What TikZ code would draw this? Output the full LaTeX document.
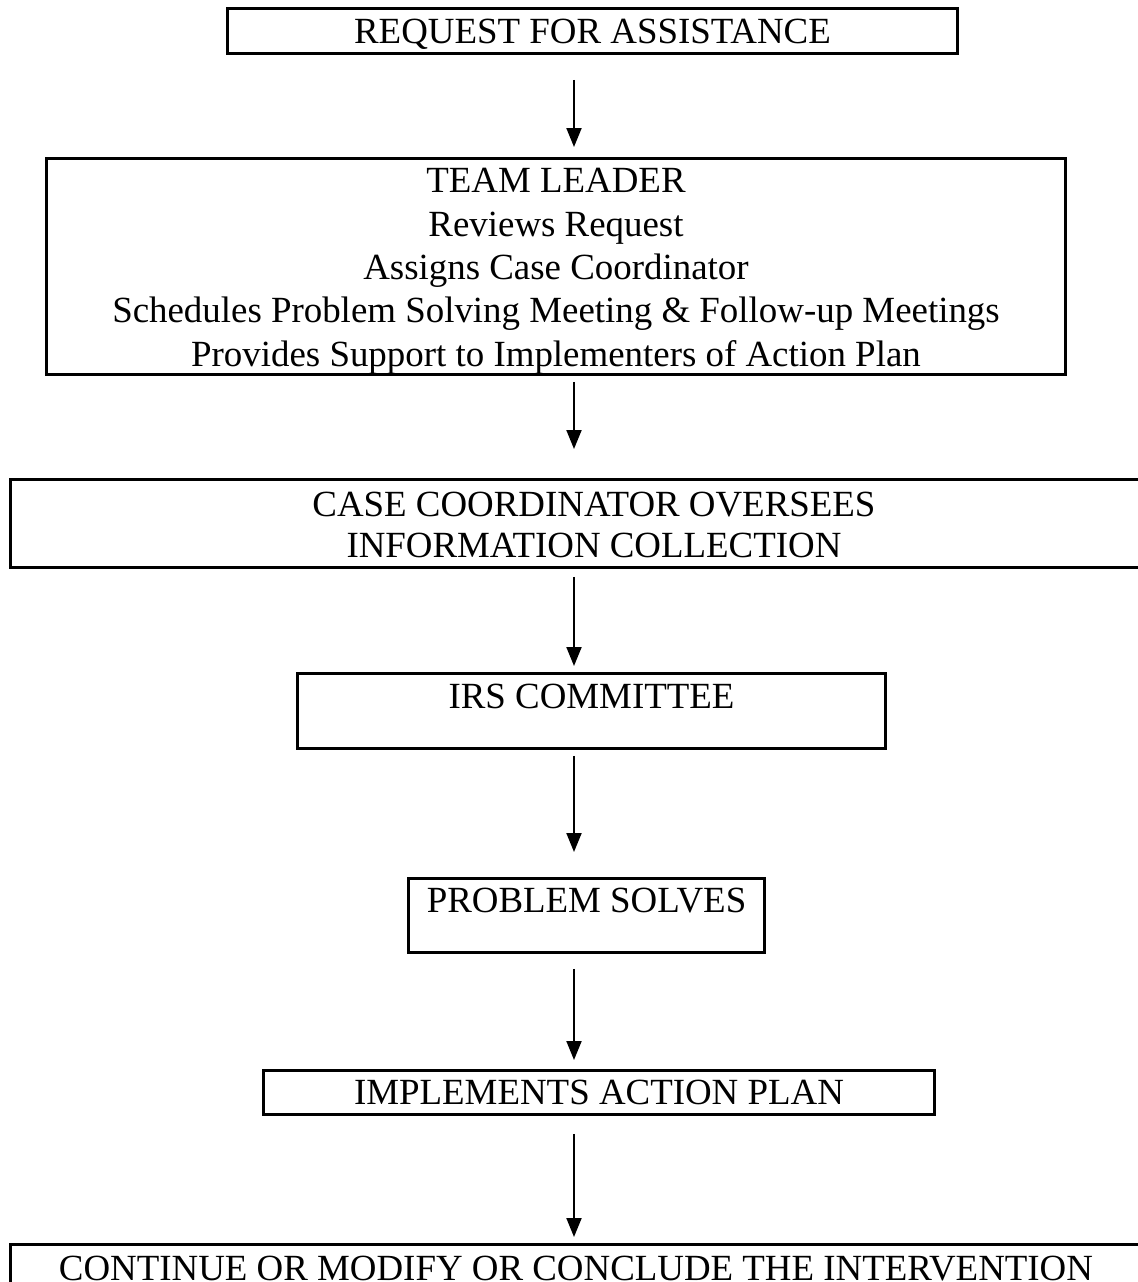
\documentclass[tikz,border=0pt]{standalone}
\usepackage{fontspec}
\setmainfont{Liberation Serif}
\usetikzlibrary{arrows.meta, positioning}
\tikzset{
  every picture/.style={line width=1.7pt},
  stage/.style={draw=black, anchor=north, align=center, inner xsep=0pt, inner ysep=0pt,
                minimum width=#1, font=\fontsize{21}{24}\selectfont},
  flow/.style={-{Triangle[length=0.38cm, width=0.30cm]}, draw=black, line width=1.1pt},
}
\begin{document}
\begin{tikzpicture}[x=0.02cm, y=-0.02cm]
  \useasboundingbox (0,0) rectangle (1138,1282);
  \clip (0,0) rectangle (1138,1282);
  \coordinate (axis) at (574,0);
  % the stages, top to bottom
  \node[stage=14.62cm, text height=0.70cm, text depth=0.20cm] (req) at (592.5,7) {REQUEST FOR ASSISTANCE};
  \node[stage=20.40cm, text height=4.16cm, text depth=0.16cm, font=\fontsize{21}{24.75}\selectfont] (lead) at (556,157)
    {TEAM LEADER\\Reviews Request\\Assigns Case Coordinator\\Schedules Problem Solving Meeting \& Follow-up Meetings\\Provides Support to Implementers of Action Plan};
  \node[stage=23.36cm, text height=1.56cm, text depth=0.20cm, font=\fontsize{21}{23.3}\selectfont] (case) at (594,478)
    {CASE COORDINATOR OVERSEES\\INFORMATION COLLECTION};
  \node[stage=11.78cm, text height=0.70cm, text depth=0.80cm] (irs) at (591.5,672) {IRS COMMITTEE};
  \node[stage=7.14cm, text height=0.68cm, text depth=0.80cm] (prob) at (586.5,877) {PROBLEM SOLVES};
  \node[stage=13.44cm, text height=0.68cm, text depth=0.20cm] (impl) at (599,1069) {IMPLEMENTS ACTION PLAN};
  \node[stage=22.64cm, text height=0.72cm, text depth=0.80cm] (cont) at (576,1243) {CONTINUE OR MODIFY OR CONCLUDE THE INTERVENTION};
  % connectors down the middle
  \foreach \a/\b/\s/\e in {req/lead/0.50cm/0.20cm, lead/case/0.12cm/0.58cm, case/irs/0.16cm/0.12cm,
                           irs/prob/0.12cm/0.50cm, prob/impl/0.30cm/0.18cm, impl/cont/0.36cm/0.12cm} {
    \draw[flow, shorten <=\s, shorten >=\e] (\a.south -| axis) -- (\b.north -| axis);
  }
\end{tikzpicture}
\end{document}
